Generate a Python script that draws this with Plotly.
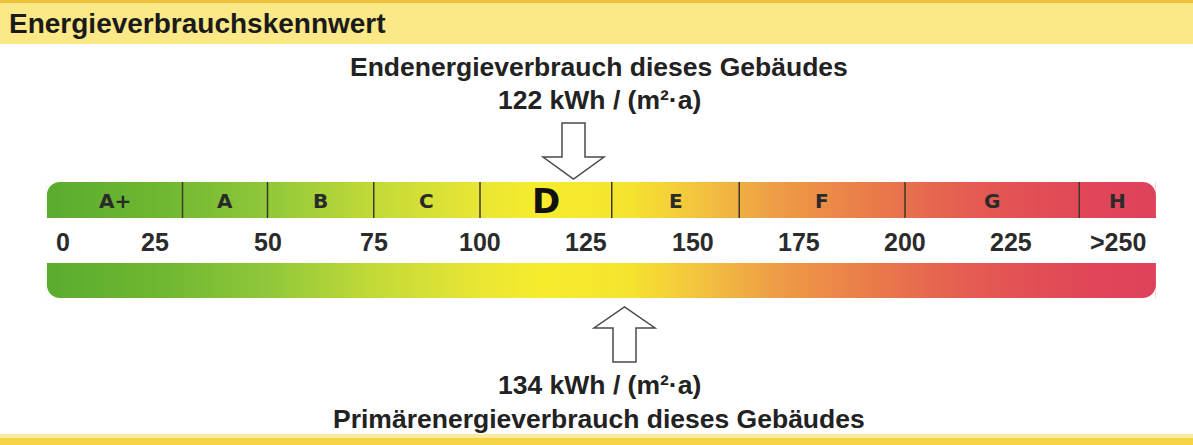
import numpy as np
import plotly.graph_objects as go

# ---------------- data ----------------
classes = ["A+", "A", "B", "C", "D", "E", "F", "G", "H"]
class_bounds = [30, 50, 75, 100, 131, 161, 200, 241]      # borders between classes (kWh/(m²·a))
scale_lo, scale_hi = -1.9, 259.0                          # extent of the coloured scale
tick_values = [0, 25, 50, 75, 100, 125, 150, 175, 200, 225, 250]
tick_labels = ["0", "25", "50", "75", "100", "125", "150", "175", "200", "225", ">250"]
endenergie = 122      # Endenergieverbrauch
primaerenergie = 134  # Primärenergieverbrauch
current_class = "D"

grad_values = [-2, 25, 50, 75, 100, 115, 135, 150, 170, 190, 215, 240, 259]
grad_colors = ["#5aac2f", "#6fb731", "#90c73a", "#c2da38", "#e9e634", "#f6ec2c", "#f5e42e",
               "#f3c63e", "#ee9c46", "#ea7e4a", "#e45c52", "#e04858", "#dd425b"]

title = "Energieverbrauchskennwert"
top_heading = "Endenergieverbrauch dieses Gebäudes"
bottom_heading = "Primärenergieverbrauch dieses Gebäudes"
unit = "kWh / (m²·a)"

# ---------------- layout helpers ----------------
W, H = 1193, 445
px_per_unit = 4.25
x_at_px0 = -55 / px_per_unit
x_range = [x_at_px0, x_at_px0 + W / px_per_unit]

FONT = "Liberation Sans, Arial, Helvetica, sans-serif"
WIDE = "DejaVu Sans, Verdana, sans-serif"
TXT = "#222222"

up_y0, up_y1 = 182, 218
lo_y0, lo_y1 = 263, 298

span = grad_values[-1] - grad_values[0]
colorscale = [[(v - grad_values[0]) / span, c] for v, c in zip(grad_values, grad_colors)]

N = 600
edges = np.linspace(scale_lo, scale_hi, N + 1)
centers = (edges[:-1] + edges[1:]) / 2

fig = go.Figure()
for (y0, y1) in [(up_y0, up_y1), (lo_y0, lo_y1)]:
    fig.add_trace(go.Heatmap(
        x=edges, y=[y0, y1], z=[centers],
        colorscale=colorscale, zmin=grad_values[0], zmax=grad_values[-1],
        showscale=False, hoverinfo="skip", zsmooth=False,
    ))

shapes = []
# title band
shapes.append(dict(type="rect", xref="paper", x0=0, x1=1, y0=0, y1=44,
                   fillcolor="#fbe887", line=dict(width=0), layer="below"))
shapes.append(dict(type="rect", xref="paper", x0=0, x1=1, y0=0, y1=3,
                   fillcolor="#efc03c", line=dict(width=0), layer="below"))
# bottom band
shapes.append(dict(type="rect", xref="paper", x0=0, x1=1, y0=434, y1=438,
                   fillcolor="#fbeaa0", line=dict(width=0), layer="below"))
shapes.append(dict(type="rect", xref="paper", x0=0, x1=1, y0=438, y1=445,
                   fillcolor="#f5d545", line=dict(width=0), layer="below"))

# rounded corners (white masks)
r_px = 13
rx = r_px / px_per_unit
ry = r_px
k = 0.5523


def corner(xc, yc, sx, sy):
    ax, ay = xc + sx * rx, yc
    bx, by = xc, yc + sy * ry
    c1x, c1y = xc + sx * rx * (1 - k), yc
    c2x, c2y = xc, yc + sy * ry * (1 - k)
    return (f"M {xc},{yc} L {ax},{ay} C {c1x},{c1y} {c2x},{c2y} {bx},{by} Z")


for (xc, yc, sx, sy) in [(scale_lo, up_y0, 1, 1), (scale_hi, up_y0, -1, 1),
                         (scale_lo, lo_y1, 1, -1), (scale_hi, lo_y1, -1, -1)]:
    shapes.append(dict(type="path", path=corner(xc, yc, sx, sy),
                       fillcolor="white", line=dict(width=0)))

# class separators
for b in class_bounds:
    shapes.append(dict(type="line", x0=b, x1=b, y0=up_y0, y1=up_y1,
                       line=dict(color="#3d3a2a", width=1.5)))

# arrows
hw = 11.5 / px_per_unit
HW = 30.5 / px_per_unit
v = endenergie
p = (f"M {v-hw},123 L {v+hw},123 L {v+hw},157 L {v+HW},157 L {v},179 "
     f"L {v-HW},157 L {v-hw},157 Z")
shapes.append(dict(type="path", path=p, fillcolor="white",
                   line=dict(color="#4a4a4a", width=1.5)))
v = primaerenergie
p = (f"M {v-hw},362 L {v+hw},362 L {v+hw},328 L {v+HW},328 L {v},307 "
     f"L {v-HW},328 L {v-hw},328 Z")
shapes.append(dict(type="path", path=p, fillcolor="white",
                   line=dict(color="#4a4a4a", width=1.5)))

annotations = []
mid_x = (endenergie + primaerenergie) / 2
annotations.append(dict(text=title, xref="paper", x=7 / W, xanchor="left", y=23, yanchor="middle",
                        showarrow=False, font=dict(family=FONT, size=28, color="#1a1a1a", weight="bold")))
annotations.append(dict(text=top_heading, x=mid_x, y=67, showarrow=False,
                        font=dict(family=FONT, size=26.5, color=TXT, weight="bold")))
annotations.append(dict(text=f"{endenergie} {unit}", x=mid_x, y=100,
                        showarrow=False, font=dict(family=FONT, size=26.5, color=TXT, weight="bold")))
annotations.append(dict(text=f"{primaerenergie} {unit}", x=mid_x, y=385,
                        showarrow=False, font=dict(family=FONT, size=26.5, color=TXT, weight="bold")))
annotations.append(dict(text=bottom_heading, x=mid_x, y=419, showarrow=False,
                        font=dict(family=FONT, size=26.5, color=TXT, weight="bold")))

# class letters
seg_edges = [scale_lo] + class_bounds + [scale_hi]
for i, c in enumerate(classes):
    xc = (seg_edges[i] + seg_edges[i + 1]) / 2
    if c == current_class:
        f = dict(family=WIDE, size=34, color="#111111", weight="bold")
    else:
        f = dict(family=WIDE, size=20, color="#2a2a2a", weight="bold")
    annotations.append(dict(text=c, x=xc, y=201, showarrow=False, font=f))

# tick labels (first two labels sit slightly inward on the printed scale)
label_shift = {0: 8, 25: -6}
for tv, tl in zip(tick_values, tick_labels):
    annotations.append(dict(text=tl, x=tv, y=242, showarrow=False, xshift=label_shift.get(tv, 0),
                            font=dict(family=FONT, size=25, color="#2b2b2b", weight="bold")))

fig.update_layout(
    width=W, height=H,
    margin=dict(l=0, r=0, t=0, b=0),
    paper_bgcolor="white", plot_bgcolor="white",
    xaxis=dict(range=x_range, visible=False, fixedrange=True),
    yaxis=dict(range=[H, 0], visible=False, fixedrange=True),
    shapes=shapes, annotations=annotations,
    showlegend=False,
)

fig.write_html(
    "out.html",
    config={"displayModeBar": False, "staticPlot": True},
    post_script="document.body.style.margin='0';document.body.style.overflow='hidden';",
)
